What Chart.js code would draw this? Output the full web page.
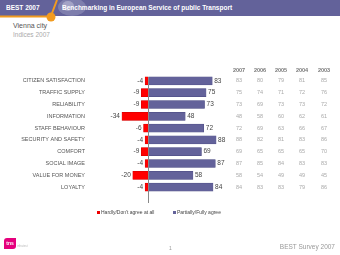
<!DOCTYPE html>
<html>
<head>
<meta charset="utf-8">
<script src="https://cdn.jsdelivr.net/npm/chart.js@4"></script>
<style>
  html, body { margin: 0; padding: 0; background: #fff; }
  body { width: 340px; height: 255px; position: relative; overflow: hidden; font-family: "Liberation Sans", Arial, sans-serif; }
  #deco { position: absolute; left: 0; top: 0; }
  #best { position: absolute; left: 6px; top: 4px; color: #fff; font-size: 6.5px; font-weight: bold; }
  #bench { position: absolute; left: 62px; top: 4px; color: #fff; font-size: 6.5px; font-weight: bold; }
  #city { position: absolute; left: 13px; top: 22px; color: #555; font-size: 7px; }
  #indices { position: absolute; left: 13px; top: 31px; color: #aaa; font-size: 6.5px; }
  #chart { position: absolute; left: 0; top: 0; }
  .leg { position: absolute; top: 209px; font-size: 5px; color: #444; }
  .leg span { display: inline-block; width: 3px; height: 3px; margin-right: 1px; vertical-align: middle; }
  #logo { position: absolute; left: 4px; top: 238px; width: 12px; height: 11px; background: #e5007d; border-radius: 3px 0 3px 0; color: #fff; font-size: 5px; font-weight: bold; line-height: 11px; text-align: center; }
  #infra { position: absolute; left: 17px; top: 244px; color: #bbb; font-size: 3px; }
  #page { position: absolute; left: 169px; top: 245px; color: #999; font-size: 5px; }
  #survey { position: absolute; right: 5px; top: 243px; color: #999; font-size: 6.5px; }
</style>
</head>
<body>
<svg id="deco" width="340" height="24">
  <rect x="0" y="0" width="340" height="16" fill="#63629a"/>
  <ellipse cx="72" cy="7" rx="14" ry="9" fill="#9a9ac0" opacity="0.5"/>
  <ellipse cx="68" cy="6" rx="6" ry="5" fill="#d0d0e4" opacity="0.45"/>
  <line x1="0" y1="16.5" x2="50" y2="16.5" stroke="#f29b1f" stroke-width="2"/>
  <line x1="51" y1="16" x2="57" y2="0" stroke="#f29b1f" stroke-width="2"/>
  <circle cx="51" cy="17" r="4.5" fill="#f29b1f"/>
</svg>
<div id="best">BEST 2007</div>
<div id="bench">Benchmarking in European Service of public Transport</div>
<div id="city">Vienna city</div>
<div id="indices">Indices 2007</div>
<canvas id="chart" width="340" height="255"></canvas>
<div class="leg" style="left:97px"><span style="background:#e00"></span>Hardly/Don't agree at all</div>
<div class="leg" style="left:173px"><span style="background:#63629a"></span>Partially/Fully agree</div>
<div id="logo">tns</div>
<div id="infra">infratest</div>
<div id="page">1</div>
<div id="survey">BEST Survey 2007</div>
<script>
const categories = ['CITIZEN SATISFACTION', 'TRAFFIC SUPPLY', 'RELIABILITY', 'INFORMATION', 'STAFF BEHAVIOUR',
  'SECURITY AND SAFETY', 'COMFORT', 'SOCIAL IMAGE', 'VALUE FOR MONEY', 'LOYALTY'];
const disagree = [-4, -9, -9, -34, -6, -4, -9, -4, -20, -4];
const agree = [83, 75, 73, 48, 72, 88, 69, 87, 58, 84];

const years = ['2007', '2006', '2005', '2004', '2003'];
const idx2007 = [83, 75, 73, 48, 72, 88, 69, 87, 58, 84];
const idx2006 = [80, 74, 69, 58, 69, 82, 65, 85, 54, 83];
const idx2005 = [79, 71, 73, 60, 63, 81, 65, 84, 49, 83];
const idx2004 = [81, 72, 73, 62, 66, 83, 65, 83, 49, 79];
const idx2003 = [85, 76, 72, 61, 67, 86, 70, 83, 45, 86];
const tableCols = [idx2007, idx2006, idx2005, idx2004, idx2003];
const colX = [239, 260, 281, 302, 324];

const extras = {
  id: 'extras',
  afterDatasetsDraw(chart) {
    const c = chart.ctx;
    const x = chart.scales.x;
    const y = chart.scales.y;
    const area = chart.chartArea;
    c.save();
    // zero axis line
    const x0 = Math.round(x.getPixelForValue(0)) + 0.5;
    c.strokeStyle = '#888';
    c.lineWidth = 1;
    c.beginPath();
    c.moveTo(x0, area.top + 2);
    c.lineTo(x0, area.bottom + 10);
    c.stroke();
    // value labels
    c.font = '6.5px "Liberation Sans", Arial, sans-serif';
    c.fillStyle = '#444';
    c.textBaseline = 'middle';
    chart.getDatasetMeta(0).data.forEach((bar, i) => {
      c.textAlign = 'right';
      c.fillText(String(disagree[i]), bar.x - 2, bar.y);
    });
    chart.getDatasetMeta(1).data.forEach((bar, i) => {
      c.textAlign = 'left';
      c.fillText(String(agree[i]), bar.x + 2, bar.y);
    });
    // table
    c.textAlign = 'center';
    c.fillStyle = '#777';
    c.font = 'bold 5.5px "Liberation Sans", Arial, sans-serif';
    years.forEach((yr, j) => c.fillText(yr, colX[j], area.top - 5));
    c.fillStyle = '#aaa';
    c.font = '5.5px "Liberation Sans", Arial, sans-serif';
    tableCols.forEach((col, j) => {
      col.forEach((v, i) => c.fillText(String(v), colX[j], y.getPixelForValue(i)));
    });
    c.restore();
  }
};

new Chart(document.getElementById('chart'), {
  type: 'bar',
  data: {
    labels: categories,
    datasets: [
      { label: "Hardly/Don't agree at all", data: disagree, backgroundColor: '#f00', borderColor: '#c00', borderWidth: 0.5, barThickness: 8 },
      { label: 'Partially/Fully agree', data: agree, backgroundColor: '#63629a', borderColor: '#4a4980', borderWidth: 0.5, barThickness: 8 }
    ]
  },
  options: {
    indexAxis: 'y',
    responsive: false,
    animation: false,
    layout: { padding: { top: 75, bottom: 62, right: 110, left: 0 } },
    plugins: { legend: { display: false }, tooltip: { enabled: false } },
    scales: {
      x: { stacked: true, min: -78, max: 106, display: false },
      y: {
        stacked: true,
        grid: { display: false, drawTicks: false },
        border: { display: false },
        ticks: { color: '#555', padding: 3, font: { family: '"Liberation Sans", Arial, sans-serif', size: 5.5 } },
        afterFit(scale) { scale.width = 88; }
      }
    }
  },
  plugins: [extras]
});
</script>
</body>
</html>
